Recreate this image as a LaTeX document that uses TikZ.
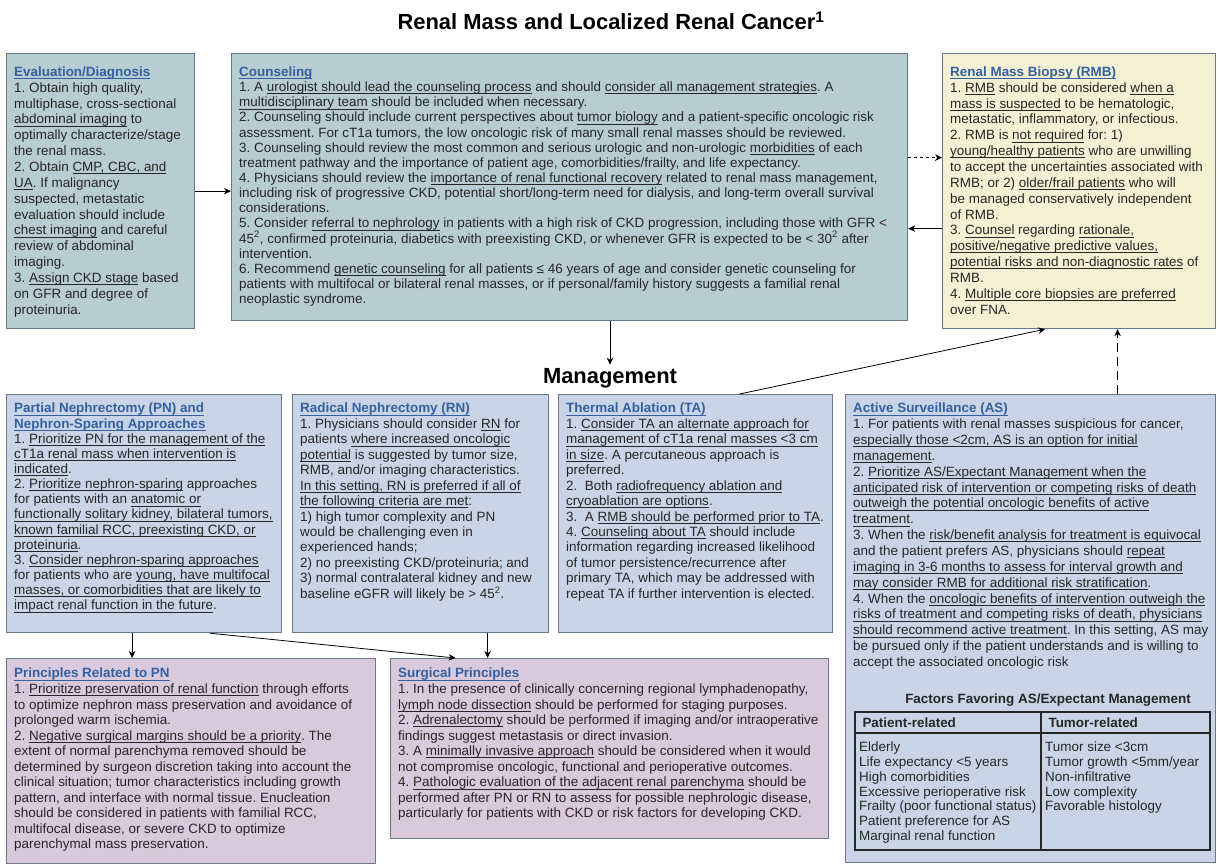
\documentclass[tikz,border=0pt]{standalone}
\usepackage{fontspec}
\setmainfont{Liberation Sans}
\usetikzlibrary{arrows.meta}
\frenchspacing

\definecolor{evalfill}{RGB}{184,205,209}
\definecolor{rmbfill}{RGB}{243,240,212}
\definecolor{mgmtfill}{RGB}{201,213,230}
\definecolor{princfill}{RGB}{217,201,221}
\definecolor{boxline}{RGB}{105,120,138}
\definecolor{headblue}{RGB}{52,96,160}
\definecolor{bodytext}{RGB}{38,38,38}

\newsavebox\undlbox
\newcommand{\undl}[1]{\sbox\undlbox{#1}\rlap{\rule[-2.4bp]{\wd\undlbox}{0.6bp}}\usebox\undlbox}
\newcommand{\boxhead}[1]{{\color{headblue}\bfseries\undl{#1}}}

\begin{document}
\begin{tikzpicture}[x=1bp, y=-1bp,
    box/.style={draw=boxline, line width=1.2bp, anchor=north west, inner sep=0pt},
    txt/.style={anchor=north west, align=left, inner xsep=8bp, inner ysep=9bp,
        text=bodytext, font=\fontsize{13.5}{15.6}\selectfont},
    arr/.style={->, >={Stealth[length=7bp,width=6.5bp]}, line width=0.8bp}]
    \fill[white] (0,0) rectangle (1219,866);
    \useasboundingbox (0,0) rectangle (1219,866);

    \node[font=\bfseries\fontsize{22}{26}\selectfont] (title) at (611,21)
        {Renal Mass and Localized Renal Cancer\textsuperscript{1}};

    % top row
    \node[box, fill=evalfill, minimum width=188bp, minimum height=275bp] (eval) at (6,53) {};
    \node[txt, inner ysep=13.5bp, font=\fontsize{13.5}{15.9}\selectfont] (evaltxt) at (eval.north west) {\boxhead{Evaluation/Diagnosis}\\
        1. Obtain high quality,\\
        multiphase, cross-sectional\\
        \undl{abdominal imaging} to\\
        optimally characterize/stage\\
        the renal mass.\\
        2. Obtain \undl{CMP, CBC, and}\\
        \undl{UA}. If malignancy\\
        suspected, metastatic\\
        evaluation should include\\
        \undl{chest imaging} and careful\\
        review of abdominal\\
        imaging.\\
        3. \undl{Assign CKD stage} based\\
        on GFR and degree of\\
        proteinuria.};

    \node[box, fill=evalfill, minimum width=676bp, minimum height=267bp] (couns) at (231,53) {};
    \node[txt, inner ysep=13.5bp, font=\fontsize{13.5}{15.2}\selectfont] (counstxt) at (couns.north west) {\boxhead{Counseling}\\
        1. A \undl{urologist should lead the counseling process} and should \undl{consider all management strategies}. A\\
        \undl{multidisciplinary team} should be included when necessary.\\
        2. Counseling should include current perspectives about \undl{tumor biology} and a patient-specific oncologic risk\\
        assessment. For cT1a tumors, the low oncologic risk of many small renal masses should be reviewed.\\
        3. Counseling should review the most common and serious urologic and non-urologic \undl{morbidities} of each\\
        treatment pathway and the importance of patient age, comorbidities/frailty, and life expectancy.\\
        4. Physicians should review the \undl{importance of renal functional recovery} related to renal mass management,\\
        including risk of progressive CKD, potential short/long-term need for dialysis, and long-term overall survival\\
        considerations.\\
        5. Consider \undl{referral to nephrology} in patients with a high risk of CKD progression, including those with GFR <\\
        45\textsuperscript{2}, confirmed proteinuria, diabetics with preexisting CKD, or whenever GFR is expected to be < 30\textsuperscript{2} after\\
        intervention.\\
        6. Recommend \undl{genetic counseling} for all patients ≤ 46 years of age and consider genetic counseling for\\
        patients with multifocal or bilateral renal masses, or if personal/family history suggests a familial renal\\
        neoplastic syndrome.};

    \node[box, fill=rmbfill, minimum width=273bp, minimum height=275bp] (rmb) at (942,53) {};
    \node[txt, inner ysep=13.5bp, font=\fontsize{13.5}{15.9}\selectfont] (rmbtxt) at (rmb.north west) {\boxhead{Renal Mass Biopsy (RMB)}\\
        1. \undl{RMB} should be considered \undl{when a}\\
        \undl{mass is suspected} to be hematologic,\\
        metastatic, inflammatory, or infectious.\\
        2. RMB is \undl{not required} for: 1)\\
        \undl{young/healthy patients} who are unwilling\\
        to accept the uncertainties associated with\\
        RMB; or 2) \undl{older/frail patients} who will\\
        be managed conservatively independent\\
        of RMB.\\
        3. \undl{Counsel} regarding \undl{rationale,}\\
        \undl{positive/negative predictive values,}\\
        \undl{potential risks and non-diagnostic rates} of\\
        RMB.\\
        4. \undl{Multiple core biopsies are preferred}\\
        over FNA.};

    \node[font=\bfseries\fontsize{22}{24}\selectfont] (mgmt) at (610,378) {Management};

    % management row
    \node[box, fill=mgmtfill, minimum width=275bp, minimum height=238bp] (pn) at (6,394) {};
    \node[txt, font=\fontsize{13.5}{15.2}\selectfont] (pntxt) at (pn.north west) {\boxhead{Partial Nephrectomy (PN) and}\\
        \boxhead{Nephron-Sparing Approaches}\\
        1. \undl{Prioritize PN for the management of the}\\
        \undl{cT1a renal mass when intervention is}\\
        \undl{indicated}.\\
        2. \undl{Prioritize nephron-sparing} approaches\\
        for patients with an \undl{anatomic or}\\
        \undl{functionally solitary kidney, bilateral tumors,}\\
        \undl{known familial RCC, preexisting CKD, or}\\
        \undl{proteinuria}.\\
        3. \undl{Consider nephron-sparing approaches}\\
        for patients who are \undl{young, have multifocal}\\
        \undl{masses, or comorbidities that are likely to}\\
        \undl{impact renal function in the future}.};

    \node[box, fill=mgmtfill, minimum width=256bp, minimum height=238bp] (rn) at (292,394) {};
    \node[txt, font=\fontsize{13.5}{15.5}\selectfont] (rntxt) at (rn.north west) {\boxhead{Radical Nephrectomy (RN)}\\
        1. Physicians should consider \undl{RN} for\\
        patients \undl{where increased oncologic}\\
        \undl{potential} is suggested by tumor size,\\
        RMB, and/or imaging characteristics.\\
        \undl{In this setting, RN is preferred if all of}\\
        \undl{the following criteria are met}:\\
        1) high tumor complexity and PN\\
        would be challenging even in\\
        experienced hands;\\
        2) no preexisting CKD/proteinuria; and\\
        3) normal contralateral kidney and new\\
        baseline eGFR will likely be > 45\textsuperscript{2}.};

    \node[box, fill=mgmtfill, minimum width=274bp, minimum height=238bp] (ta) at (558,394) {};
    \node[txt, font=\fontsize{13.5}{15.5}\selectfont] (tatxt) at (ta.north west) {\boxhead{Thermal Ablation (TA)}\\
        1. \undl{Consider TA an alternate approach for}\\
        \undl{management of cT1a renal masses <3 cm}\\
        \undl{in size}. A percutaneous approach is\\
        preferred.\\
        2.\ \ Both \undl{radiofrequency ablation and}\\
        \undl{cryoablation are options}.\\
        3.\ \ A \undl{RMB should be performed prior to TA}.\\
        4. \undl{Counseling about TA} should include\\
        information regarding increased likelihood\\
        of tumor persistence/recurrence after\\
        primary TA, which may be addressed with\\
        repeat TA if further intervention is elected.};

    \node[box, fill=mgmtfill, minimum width=370bp, minimum height=468bp] (as) at (845,394) {};
    \node[txt, font=\fontsize{13.5}{15.9}\selectfont] (astxt) at (as.north west) {\boxhead{Active Surveillance (AS)}\\
        1. For patients with renal masses suspicious for cancer,\\
        \undl{especially those <2cm, AS is an option for initial}\\
        \undl{management}.\\
        2. \undl{Prioritize AS/Expectant Management when the}\\
        \undl{anticipated risk of intervention or competing risks of death}\\
        \undl{outweigh the potential oncologic benefits of active}\\
        \undl{treatment}.\\
        3. When the \undl{risk/benefit analysis for treatment is equivocal}\\
        and the patient prefers AS, physicians should \undl{repeat}\\
        \undl{imaging in 3-6 months to assess for interval growth and}\\
        \undl{may consider RMB for additional risk stratification}.\\
        4. When the \undl{oncologic benefits of intervention outweigh the}\\
        \undl{risks of treatment and competing risks of death, physicians}\\
        \undl{should recommend active treatment}. In this setting, AS may\\
        be pursued only if the patient understands and is willing to\\
        accept the associated oncologic risk};

    % factors table
    \node[font=\bfseries\fontsize{13.5}{15}\selectfont, text=bodytext] (factors) at (1048,700)
        {Factors Favoring AS/Expectant Management};
    \draw[line width=1.2bp, draw=bodytext] (855,712) rectangle (1210,850);
    \draw[line width=1.2bp, draw=bodytext] (855,733) -- (1210,733);
    \draw[line width=1.2bp, draw=bodytext] (1041,712) -- (1041,850);
    \node[anchor=west, font=\bfseries\fontsize{13.5}{15}\selectfont, text=bodytext] (patienthd) at (859,723) {Patient-related};
    \node[anchor=west, font=\bfseries\fontsize{13.5}{15}\selectfont, text=bodytext] (tumorhd) at (1045,723) {Tumor-related};
    \node[anchor=north west, align=left, inner sep=4bp, text=bodytext, font=\fontsize{13.5}{14.8}\selectfont] (patientlist) at (855,738)
        {Elderly\\ Life expectancy <5 years\\ High comorbidities\\ Excessive perioperative risk\\
         Frailty (poor functional status)\\ Patient preference for AS\\ Marginal renal function};
    \node[anchor=north west, align=left, inner sep=4bp, text=bodytext, font=\fontsize{13.5}{14.8}\selectfont] (tumorlist) at (1041,738)
        {Tumor size <3cm\\ Tumor growth <5mm/year\\ Non-infiltrative\\ Low complexity\\ Favorable histology};

    % principles row
    \node[box, fill=princfill, minimum width=369bp, minimum height=205bp] (prinpn) at (6,658) {};
    \node[txt, inner ysep=10bp, font=\fontsize{13.5}{15.6}\selectfont] (prinpntxt) at (prinpn.north west) {\boxhead{Principles Related to PN}\\
        1. \undl{Prioritize preservation of renal function} through efforts\\
        to optimize nephron mass preservation and avoidance of\\
        prolonged warm ischemia.\\
        2. \undl{Negative surgical margins should be a priority}. The\\
        extent of normal parenchyma removed should be\\
        determined by surgeon discretion taking into account the\\
        clinical situation; tumor characteristics including growth\\
        pattern, and interface with normal tissue. Enucleation\\
        should be considered in patients with familial RCC,\\
        multifocal disease, or severe CKD to optimize\\
        parenchymal mass preservation.};

    \node[box, fill=princfill, minimum width=438bp, minimum height=180bp] (surg) at (390,658) {};
    \node[txt, inner ysep=10bp, font=\fontsize{13.5}{15.6}\selectfont] (surgtxt) at (surg.north west) {\boxhead{Surgical Principles}\\
        1. In the presence of clinically concerning regional lymphadenopathy,\\
        \undl{lymph node dissection} should be performed for staging purposes.\\
        2. \undl{Adrenalectomy} should be performed if imaging and/or intraoperative\\
        findings suggest metastasis or direct invasion.\\
        3. A \undl{minimally invasive approach} should be considered when it would\\
        not compromise oncologic, functional and perioperative outcomes.\\
        4. \undl{Pathologic evaluation of the adjacent renal parenchyma} should be\\
        performed after PN or RN to assess for possible nephrologic disease,\\
        particularly for patients with CKD or risk factors for developing CKD.};

    % connectors
    \draw[arr] (eval.east) -- (eval.east -| couns.west);
    \draw[arr, dashed] ([yshift=29.5bp]couns.east) -- ([yshift=29.5bp]couns.east -| rmb.west);
    \draw[arr] ([yshift=-37.5bp]rmb.west) -- ([yshift=-37.5bp]rmb.west -| couns.east);
    \draw[arr] (couns.south -| mgmt.north) -- (mgmt.north);
    \draw[arr] ([xshift=44bp]ta.north) -- ([xshift=-34bp]rmb.south);
    \draw[arr, dash pattern=on 9bp off 5bp] ([xshift=87bp]as.north) -- ([xshift=87bp]as.north |- rmb.south);
    \draw[arr] ([xshift=-12bp]pn.south) -- ([xshift=-12bp]pn.south |- prinpn.north);
    \draw[arr] ([xshift=66bp]pn.south) -- ([xshift=-154bp]surg.north);
    \draw[arr] ([xshift=67bp]rn.south) -- ([xshift=67bp]rn.south |- surg.north);
\end{tikzpicture}
\end{document}
